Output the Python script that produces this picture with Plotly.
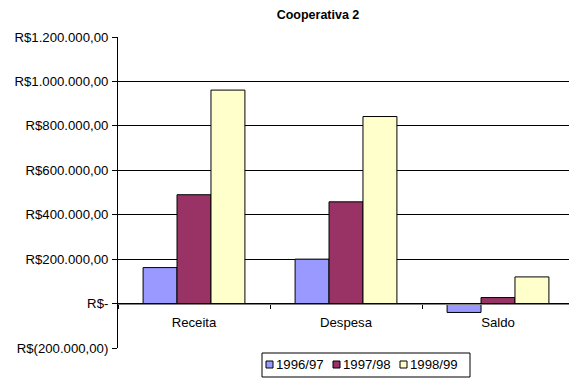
import plotly.graph_objects as go

categories = ["Receita", "Despesa", "Saldo"]
series_names = ["1996/97", "1997/98", "1998/99"]
v_1996 = [162000, 200000, -40000]
v_1997 = [490000, 458000, 27000]
v_1998 = [961000, 842000, 120000]
colors = ["#9999FF", "#993366", "#FFFFCC"]

tick_vals = [-200000, 0, 200000, 400000, 600000, 800000, 1000000, 1200000]
tick_text = ["R$(200.000,00)", "R$-", "R$200.000,00", "R$400.000,00",
             "R$600.000,00", "R$800.000,00", "R$1.000.000,00", "R$1.200.000,00"]

font = "Liberation Sans, Arial, sans-serif"
FS = 13.2
W, H = 569, 380
ML, MR, MT, MB = 118, 0, 37, 32
PW, PH = W - ML - MR, H - MT - MB


def px(x):
    return (x - ML) / PW


def py(y):
    return (H - MB - y) / PH


fig = go.Figure()
for name, vals, c in zip(series_names, [v_1996, v_1997, v_1998], colors):
    fig.add_trace(go.Bar(x=categories, y=vals, name=name, showlegend=False,
                         marker=dict(color=c, line=dict(color="black", width=1))))

# manual compact legend (Excel style)
shapes = [dict(type="rect", xref="paper", yref="paper", x0=px(262), x1=px(470),
               y0=py(353), y1=py(377), line=dict(color="black", width=1),
               fillcolor="white", layer="above")]
annotations = []
mx = [266, 333, 400]
for name, c, x in zip(series_names, colors, mx):
    shapes.append(dict(type="rect", xref="paper", yref="paper", x0=px(x), x1=px(x + 7),
                       y0=py(361), y1=py(368), line=dict(color="black", width=1),
                       fillcolor=c, layer="above"))
    annotations.append(dict(text=name, xref="paper", yref="paper", x=px(x + 8),
                            y=py(365), xanchor="left", yanchor="middle", showarrow=False,
                            font=dict(size=FS, family=font, color="black")))

ymin, ymax = -200000, 1200000
fig.update_layout(
    width=W, height=H,
    margin=dict(l=ML, r=MR, t=MT, b=MB),
    paper_bgcolor="white", plot_bgcolor="white",
    font=dict(family=font, size=FS, color="black"),
    title=dict(text="<b>Cooperativa 2</b>", x=318 / W, xanchor="center",
               y=1 - 15 / H, yanchor="middle", font=dict(size=12.5, family=font)),
    barmode="group", bargap=0.33, bargroupgap=0,
    showlegend=False,
    shapes=shapes, annotations=annotations,
    xaxis=dict(type="category", range=[-0.5, 2.5 - 5 / 152], anchor="free",
               position=(0 - ymin) / (ymax - ymin), showline=True, linecolor="#808080",
               linewidth=1, ticks="outside", tickson="boundaries", ticklen=4,
               tickcolor="black", showgrid=False, zeroline=False,
               ticklabelstandoff=7, tickfont=dict(size=FS, family=font)),
    yaxis=dict(range=[ymin, ymax], tickvals=tick_vals, ticktext=tick_text,
               showline=True, linecolor="black", linewidth=1, ticks="outside",
               ticklen=5, tickcolor="black", showgrid=True, gridcolor="black",
               gridwidth=1, zeroline=False, ticklabelstandoff=1,
               tickfont=dict(size=FS, family=font)),
)
fig.write_html("out.html")
